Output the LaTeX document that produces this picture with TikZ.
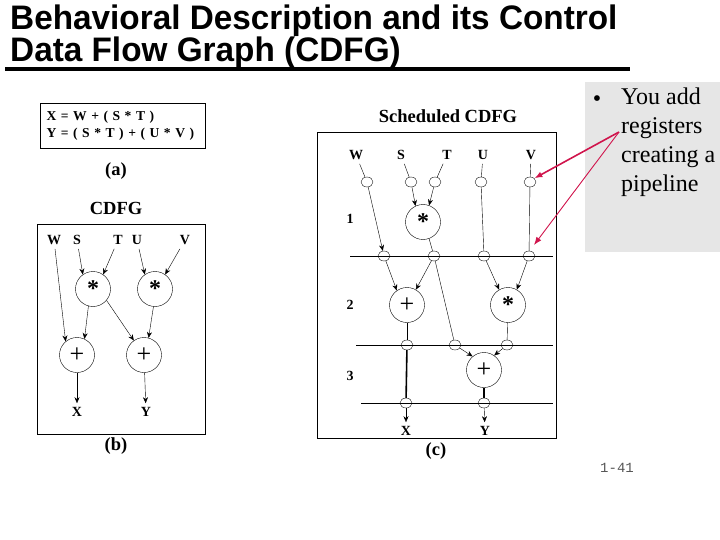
\documentclass[tikz,border=0pt]{standalone}
\usepackage{fontspec}
\setmainfont{Liberation Serif}
\newfontfamily\headfont{Liberation Sans}
\newfontfamily\pagefont{Liberation Mono}
\usepackage{tikz}
\usetikzlibrary{arrows.meta,shapes.geometric,calc}
\definecolor{pointer}{HTML}{D0144C}
\definecolor{notegray}{HTML}{E6E6E6}
\definecolor{pagegray}{HTML}{555555}

\begin{document}
\begin{tikzpicture}[
    x=1pt,y=-1pt,
    headline/.style={anchor=base west,inner sep=0pt,xscale=0.98,font=\headfont\fontsize{34}{34}\selectfont\bfseries},
    inp/.style={font=\fontsize{14}{14}\selectfont\bfseries,inner sep=4pt},
    sublbl/.style={font=\fontsize{18.5}{18.5}\selectfont\bfseries,inner sep=0pt},
    opnode/.style={draw,circle,minimum size=35pt,inner sep=0pt},
    mulop/.style={opnode,font=\fontsize{24}{24}\selectfont\bfseries},
    addop/.style={opnode,font=\fontsize{26}{26}\selectfont},
    regbox/.style={draw,ellipse,minimum width=12pt,minimum height=10pt,inner sep=0pt},
    arr/.style={-{Stealth[length=6pt,width=5pt]},thin},
    wire/.style={thin},
    bus/.style={line width=1.6pt},
    regarr/.style={-{Latex[length=8pt,width=6pt]},draw=pointer}
]
\useasboundingbox (0,0) rectangle (720,540);

% title
\node[headline] (title1) at (10,30) {Behavioral Description and its Control};
\node[headline] (title2) at (10,62) {Data Flow Graph (CDFG)};
\draw[line width=4pt] (5,69) -- (630,69);

% (a) equations
\node[draw,minimum width=165pt,minimum height=45pt,text width=152pt,align=left,
      font=\fontsize{13.6}{17}\selectfont\bfseries] (eqs) at (122.5,125.5)
      {X = W + ( S * T )\\Y = ( S * T ) + ( U * V )};
\node[sublbl] (capa) at (116,171) {(a)};

% (b) CDFG
\node[sublbl] (cdfg) at (116,208) {CDFG};
\draw (37,224) rectangle (205,434);
\node[inp] (bW) at (54,240) {W};
\node[inp] (bS) at (77,240) {S};
\node[inp] (bT) at (118,240) {T};
\node[inp] (bU) at (137,240) {U};
\node[inp] (bV) at (185,240) {V};
\node[mulop] (bm1) at (93,289) {*};
\node[mulop] (bm2) at (155,289) {*};
\node[addop] (ba1) at (77,355) {+};
\node[addop] (ba2) at (144,355) {+};
\node[inp] (bX) at (77,412) {X};
\node[inp] (bY) at (146,412) {Y};
\node[sublbl] (capb) at (116,446) {(b)};

\draw[arr] (bW) -- (ba1.130);
\draw[arr] (bS) -- (bm1.125);
\draw[arr] (bT) -- (bm1.55);
\draw[arr] (bU) -- (bm2.125);
\draw[arr] (bV) -- (bm2.55);
\draw[arr] (bm1.255) -- (ba1.65);
\draw[arr] (bm1.320) -- (ba2.125);
\draw[arr] (bm2.265) -- (ba2.75);
\draw[arr] (ba1) -- (bX);
\draw[arr] (ba2) -- (bY);

% (c) scheduled CDFG
\node[sublbl] (sched) at (448,116) {Scheduled CDFG};
\draw (317,132) rectangle (556,438);
\node[inp] (cW) at (356,155) {W};
\node[inp] (cS) at (401,155) {S};
\node[inp] (cT) at (447,155) {T};
\node[inp] (cU) at (483,155) {U};
\node[inp] (cV) at (531,155) {V};
\node[inp] (st1) at (350,219) {1};
\node[inp] (st2) at (350,305) {2};
\node[inp] (st3) at (350,376) {3};

\draw (350,256) -- (553,256);
\draw (356,345) -- (553,345);
\draw (361,403) -- (553,403);

\node[regbox] (rW) at (367,182) {};
\node[regbox] (rS) at (411,182) {};
\node[regbox] (rT) at (435,182) {};
\node[regbox] (rU) at (481,182) {};
\node[regbox] (rV) at (530,182) {};
\node[regbox] (r1a) at (384,256) {};
\node[regbox] (r1b) at (434,256) {};
\node[regbox] (r1c) at (484,256) {};
\node[regbox] (r1d) at (529,256) {};
\node[regbox] (r2a) at (407,345) {};
\node[regbox] (r2b) at (455,345) {};
\node[regbox] (r2c) at (507,345) {};
\node[regbox] (r3a) at (406,403) {};
\node[regbox] (r3b) at (484,403) {};

\node[mulop] (cm1) at (423,222) {*};
\node[addop] (ca2) at (407,305) {+};
\node[mulop] (cm2) at (508,305) {*};
\node[addop] (ca3) at (484,370) {+};
\node[inp] (cX) at (406,431) {X};
\node[inp] (cY) at (485,431) {Y};
\node[sublbl] (capc) at (436,451) {(c)};

\draw[wire] (cW) -- (rW);
\draw[wire] (cS) -- (rS);
\draw[wire] (cT) -- (rT);
\draw[wire] (cU) -- (rU);
\draw[wire] (cV) -- (rV);
\draw[arr] (rW) -- (r1a);
\draw[arr] (rS) -- (cm1.115);
\draw[arr] (rT) -- (cm1.70);
\draw[wire] (rU) -- (r1c);
\draw[wire] (rV) -- (r1d);
\draw[wire] (cm1.290) -- (r1b);
\draw[arr] (r1a) -- (ca2.125);
\draw[arr] (r1b) -- (ca2.60);
\draw[wire] (r1b) -- (r2b);
\draw[arr] (r1c) -- (cm2.120);
\draw[arr] (r1d) -- (cm2.60);
\draw[wire] (ca2) -- (r2a);
\draw[wire] (cm2) -- (r2c);
\draw[arr] (r2b) -- (ca3.130);
\draw[arr] (r2c) -- (ca3.55);
\draw[bus] (r2a) -- (r3a);
\draw[bus] (ca3) -- (r3b);
\draw[arr] (r3a) -- (cX);
\draw[arr] (r3b) -- (cY);

% note
\fill[notegray] (585,82) rectangle (720,252);
\node[anchor=north west,inner sep=0pt,align=left,font=\fontsize{24}{29}\selectfont] (note) at (621,88)
     {You add\\registers\\creating a\\pipeline};
\node[anchor=base,inner sep=0pt,font=\fontsize{24}{29}\selectfont] (dot) at (597,107) {\textbullet};
\coordinate (regs) at (619,132);
\coordinate (vtap) at ($(r1d)+(5,-11)$);
\draw[regarr,line width=1.6pt] (regs) -- (rV.north east);
\draw[regarr,line width=0.9pt] (regs) -- (vtap);

\node[font=\pagefont\fontsize{14}{14}\selectfont,text=pagegray] (page) at (617,468) {1-41};
\end{tikzpicture}
\end{document}
